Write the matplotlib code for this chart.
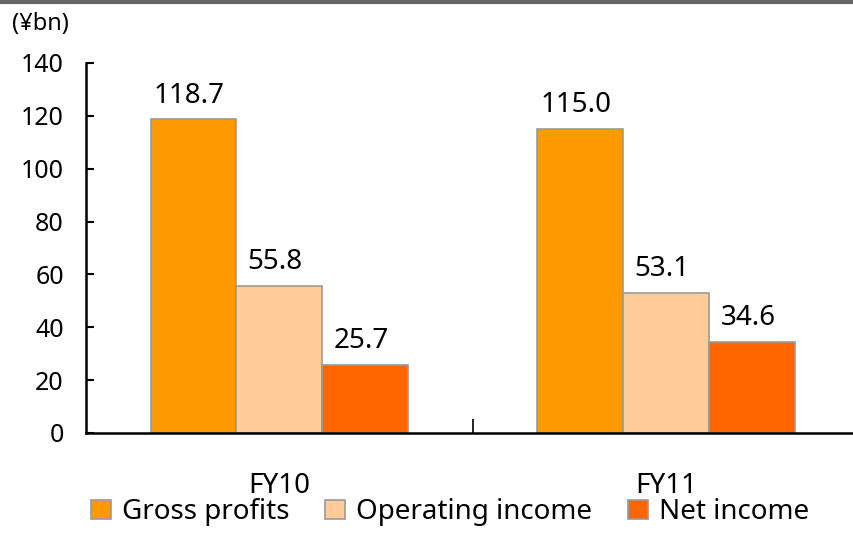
import numpy as np
import matplotlib.pyplot as plt
from matplotlib.lines import Line2D

# data
years = ['FY10', 'FY11']
series = ['Gross profits', 'Operating income', 'Net income']
gross = [118.7, 115.0]
operating = [55.8, 53.1]
net = [25.7, 34.6]
colors = ['#FF9900', '#FFCC99', '#FF6600']

plt.rcParams['font.family'] = ['Noto Sans', 'DejaVu Sans']

fig = plt.figure(figsize=(8.54, 5.36), dpi=100)
ax = fig.add_axes([0.1007, 0.1922, 0.906, 0.6903])

x = np.arange(len(years))
w = 0.222
for i, (vals, name, c) in enumerate(zip([gross, operating, net], series, colors)):
    bars = ax.bar(x + (i - 1) * w, vals, w, color=c, edgecolor='#999999',
                  linewidth=1.2, label=name)
    for b, v in zip(bars, vals):
        ax.annotate(f'{v:.1f}', (b.get_x() + b.get_width() / 2, v),
                    xytext=(-3, 12), textcoords='offset points',
                    ha='center', va='baseline', fontsize=20)

ax.set_xlim(-0.5, 1.5)
ax.set_ylim(0, 140)
ax.set_yticks(range(0, 141, 20))
ax.tick_params(axis='y', direction='in', length=6, width=1.5, labelsize=18, pad=16)
ax.set_xticks([0.5])
ax.set_xticklabels([''])
ax.tick_params(axis='x', direction='in', length=10, width=1.2)
for xi, lab in zip(x, years):
    ax.text(xi, -0.162, lab, transform=ax.get_xaxis_transform(),
            ha='center', va='baseline', fontsize=20)

for s in ['top', 'right']:
    ax.spines[s].set_visible(False)
ax.spines['left'].set_linewidth(1.8)
ax.spines['bottom'].set_linewidth(1.8)

fig.text(0.014, 0.955, '(¥bn)', fontsize=17, va='center', ha='left')
fig.add_artist(Line2D([0, 1], [0.997, 0.997], color='#666666', lw=3,
                      transform=fig.transFigure))

fig.legend(loc='lower center', bbox_to_anchor=(0.527, -0.008), ncol=3, frameon=False,
           fontsize=20, handlelength=0.7, handleheight=0.7, handletextpad=0.4,
           columnspacing=1.3, borderpad=0)

fig.savefig('out.png', dpi=100)
